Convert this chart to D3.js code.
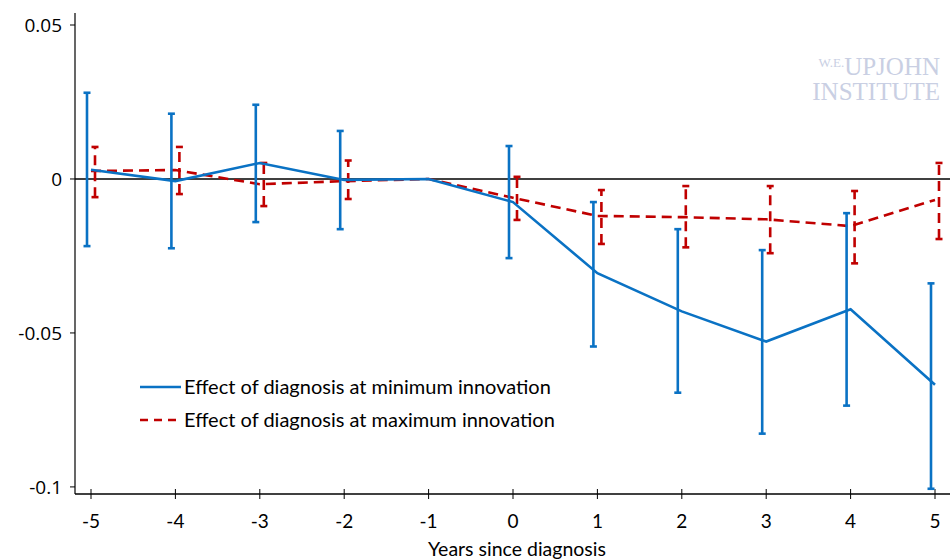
<!DOCTYPE html>
<html>
<head>
<meta charset="utf-8">
<script src="https://cdn.jsdelivr.net/npm/d3@7"></script>
<style>
  body { margin: 0; background: #fff; }
  svg text { font-family: Lato, "Open Sans", sans-serif; }
</style>
</head>
<body>
<svg id="chart" width="950" height="559"></svg>
<script>
// years relative to diagnosis
var years = [-5, -4, -3, -2, -1, 0, 1, 2, 3, 4, 5];
var yTicks = [-0.1, -0.05, 0, 0.05];
var yTickLabels = ["-0.1", "-0.05", "0", "0.05"];

// effect at minimum innovation (blue), with CI
var minEffect = [0.0030, -0.0007, 0.0052, -0.0003, 0, -0.0075, -0.0306, -0.0430, -0.0528, -0.0423, -0.0668];
var minLow = [-0.0218, -0.0225, -0.0140, -0.0163, null, -0.0257, -0.0544, -0.0694, -0.0827, -0.0736, -0.1006];
var minHigh = [0.0280, 0.0212, 0.0241, 0.0156, null, 0.0107, -0.0075, -0.0163, -0.0231, -0.0111, -0.0339];

// effect at maximum innovation (red), with CI
var maxEffect = [0.0026, 0.0029, -0.0017, -0.0007, 0, -0.0061, -0.0120, -0.0124, -0.0131, -0.0153, -0.0068];
var maxLow = [-0.0059, -0.0049, -0.0088, -0.0065, null, -0.0133, -0.0211, -0.0222, -0.0241, -0.0274, -0.0195];
var maxHigh = [0.0104, 0.0104, 0.0052, 0.0060, null, 0.0007, -0.0036, -0.0023, -0.0023, -0.0039, 0.0052];

var blue = "#0a72c4", red = "#c00000";

var svg = d3.select("#chart");

var x = d3.scaleLinear().domain([-5, 5]).range([91, 935]);
var y = d3.scaleLinear().domain([-0.1023, 0.0539]).range([494, 13]);

// y axis
svg.append("line").attr("x1", 75).attr("x2", 75).attr("y1", 13).attr("y2", 494)
    .attr("stroke", "#000").attr("stroke-width", 1.2);
svg.selectAll(".ytick").data(yTicks).enter().append("line")
    .attr("x1", 70).attr("x2", 75)
    .attr("y1", function (d) { return y(d); }).attr("y2", function (d) { return y(d); })
    .attr("stroke", "#000");
svg.selectAll(".ylab").data(yTicks).enter().append("text")
    .attr("x", 62).attr("y", function (d) { return y(d) + 7; })
    .attr("text-anchor", "end").attr("font-size", 19).attr("fill", "#000")
    .style("font-family", "'Open Sans', sans-serif")
    .text(function (d, i) { return yTickLabels[i]; });

// zero line
svg.append("line").attr("x1", 75).attr("x2", 950).attr("y1", y(0)).attr("y2", y(0))
    .attr("stroke", "#000").attr("stroke-width", 1.3);

// x axis
svg.append("line").attr("x1", 75).attr("x2", 950).attr("y1", 494).attr("y2", 494)
    .attr("stroke", "#000").attr("stroke-width", 1.3);
svg.selectAll(".xtick").data(years).enter().append("line")
    .attr("x1", function (d) { return x(d); }).attr("x2", function (d) { return x(d); })
    .attr("y1", 489).attr("y2", 499).attr("stroke", "#000");
svg.selectAll(".xlab").data(years).enter().append("text")
    .attr("x", function (d) { return x(d); }).attr("y", 528)
    .attr("text-anchor", "middle").attr("font-size", 19).attr("fill", "#000")
    .text(function (d) { return d; });
svg.append("text").attr("x", 517).attr("y", 556).attr("text-anchor", "middle")
    .attr("font-size", 19.5).attr("fill", "#000").text("Years since diagnosis");

// watermark
var wm = svg.append("text").attr("x", 940).attr("y", 75).attr("text-anchor", "end")
    .attr("fill", "#c9cfe3").style("font-family", "'Liberation Serif', serif");
wm.append("tspan").attr("font-size", 13).attr("dy", -8).text("W.E.");
wm.append("tspan").attr("font-size", 25).attr("dy", 8).text("UPJOHN");
svg.append("text").attr("x", 940).attr("y", 100).attr("text-anchor", "end")
    .attr("fill", "#c9cfe3").attr("font-size", 25)
    .style("font-family", "'Liberation Serif', serif").text("INSTITUTE");

function drawSeries(vals, lows, highs, color, offset, dash) {
    var g = svg.append("g");
    var line = d3.line()
        .x(function (d, i) { return x(years[i]); })
        .y(function (d) { return y(d); });
    g.append("path").datum(vals).attr("d", line)
        .attr("fill", "none").attr("stroke", color).attr("stroke-width", 2.6)
        .attr("stroke-dasharray", dash);

    var idx = d3.range(years.length).filter(function (i) { return lows[i] !== null; });
    var bars = g.selectAll(".eb").data(idx).enter().append("g");
    bars.append("line")
        .attr("x1", function (i) { return x(years[i]) + offset; })
        .attr("x2", function (i) { return x(years[i]) + offset; })
        .attr("y1", function (i) { return y(lows[i]); })
        .attr("y2", function (i) { return y(highs[i]); })
        .attr("stroke", color).attr("stroke-width", 2.6).attr("stroke-dasharray", dash);
    [lows, highs].forEach(function (arr) {
        bars.append("line")
            .attr("x1", function (i) { return x(years[i]) + offset - 3.5; })
            .attr("x2", function (i) { return x(years[i]) + offset + 3.5; })
            .attr("y1", function (i) { return y(arr[i]); })
            .attr("y2", function (i) { return y(arr[i]); })
            .attr("stroke", color).attr("stroke-width", 2.6);
    });
}

drawSeries(maxEffect, maxLow, maxHigh, red, 4, "10,6");
drawSeries(minEffect, minLow, minHigh, blue, -4, null);

// legend
var legend = [
    { label: "Effect of diagnosis at minimum innovation", color: blue, dash: null, y: 387 },
    { label: "Effect of diagnosis at maximum innovation", color: red, dash: "8,6", y: 420 }
];
var lg = svg.selectAll(".leg").data(legend).enter().append("g");
lg.append("line").attr("x1", 140).attr("x2", 181)
    .attr("y1", function (d) { return d.y; }).attr("y2", function (d) { return d.y; })
    .attr("stroke", function (d) { return d.color; }).attr("stroke-width", 2.6)
    .attr("stroke-dasharray", function (d) { return d.dash; });
lg.append("text").attr("x", 184).attr("y", function (d) { return d.y + 7; })
    .attr("font-size", 20).attr("fill", "#000")
    .text(function (d) { return d.label; });
</script>
</body>
</html>
